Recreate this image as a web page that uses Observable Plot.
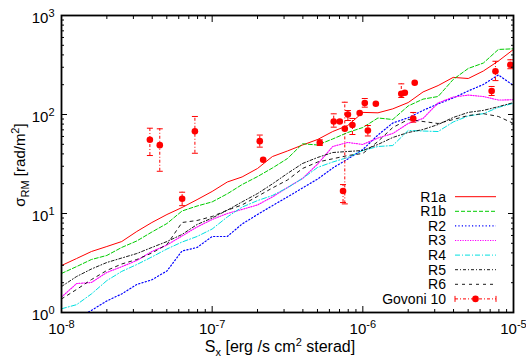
<!DOCTYPE html>
<html><head><meta charset="utf-8">
<script src="https://cdn.jsdelivr.net/npm/d3@7"></script>
<script src="https://cdn.jsdelivr.net/npm/@observablehq/plot@0.6"></script>
<style>
html,body{margin:0;padding:0;background:#fff;}
#chart svg{display:block;font-family:"Liberation Sans",Arial,Helvetica,sans-serif;}
</style></head><body><div id="chart"></div>
<script>
// X-ray surface brightness grid (erg/s cm^2 sterad)
const sx = [1.00e-8,1.26e-8,1.58e-8,2.00e-8,2.51e-8,3.16e-8,3.98e-8,5.01e-8,6.31e-8,7.94e-8,
            1.00e-7,1.26e-7,1.58e-7,2.00e-7,2.51e-7,3.16e-7,3.98e-7,5.01e-7,6.31e-7,7.94e-7,
            1.00e-6,1.26e-6,1.58e-6,2.00e-6,2.51e-6,3.16e-6,3.98e-6,5.01e-6,6.31e-6,7.94e-6,1.00e-5];
// sigma_RM (rad/m^2) for each run
const r1a = [2.98,3.51,4.13,4.64,5.21,6.58,8.11,9.77,11.5,13.8,16.7,20.8,23.4,28.5,37.6,42.8,49.2,55.9,67.3,77.4,105,104,114,132,169,196,237,231,275,347,454];
const r1b = [2.48,2.91,3.43,3.77,4.54,5.28,6.50,7.92,10.6,11.9,13.1,15.8,19.6,23.6,28.8,35.9,50.6,49.2,56.6,65.8,73.9,92.2,89.0,122,143,152,226,292,331,454,461];
const r2  = [0.72,0.87,1.05,1.31,1.54,1.92,2.14,2.63,4.18,4.54,5.86,5.86,7.83,9.77,12.0,14.7,18.1,22.3,28.8,35.5,44.3,62.1,82.0,92.6,110,128,147,173,201,251,196];
const r3  = [1.43,1.96,2.01,2.54,2.90,3.35,4.13,4.81,5.93,7.31,8.70,10.0,11.0,12.2,14.7,18.3,22.6,31.6,47.5,52.2,49.8,57.9,64.3,81.1,91.2,131,150,157,152,140,141];
const r4  = [1.09,1.20,1.54,2.10,2.60,3.05,3.64,4.38,5.15,5.86,6.97,9.22,11.6,13.5,15.2,18.2,22.6,29.2,33.1,36.8,43.3,47.5,48.6,68.9,68.1,67.3,84.0,96.6,102,118,130];
const r5  = [1.83,2.31,2.75,3.20,3.55,3.94,4.54,5.21,6.14,7.74,9.01,10.8,13.1,15.9,19.9,25.4,32.0,36.8,41.3,42.3,43.3,49.8,58.6,65.8,70.5,79.2,93.3,105,110,120,132];
const r6  = [1.37,1.71,2.15,2.66,3.09,3.43,3.99,4.86,8.11,8.50,9.33,10.8,12.2,14.9,18.1,21.8,28.5,33.1,35.7,38.5,40.4,53.4,73.9,89.0,85.0,81.1,89.0,97.7,102,95.5,81.1];
// Govoni et al. 2010 observations
const govS     = [3.86e-8,4.49e-8,6.32e-8,7.68e-8,2.07e-7,2.18e-7,5.18e-7,6.41e-7,7.03e-7,7.59e-7,7.39e-7,7.96e-7,8.53e-7,9.53e-7,1.03e-6,1.08e-6,1.22e-6,1.80e-6,1.90e-6,2.21e-6,2.16e-6,7.16e-6,7.59e-6,9.53e-6];
const govSigma = [55.5,49,14.1,67.8,53.8,34.9,51.8,85,85,71.7,16.9,100,78.3,103.6,130.7,68.9,128.3,161.8,166,209,91.2,172.7,273,318];
const govLo    = [38.5,26.7,12.0,40.6,46.8,null,48.6,74.5,null,12.5,12.9,87,62.8,null,118.6,60.7,null,148.5,null,null,83.6,155.5,220,290];
const govHi    = [72.7,71.7,16.4,95.5,62,null,55.5,101.6,null,133,19.6,109.7,91.2,null,145,77.4,null,204,null,null,104.8,191.8,345,357];
// labels
const seriesNames = ["R1a","R1b","R2","R3","R4","R5","R6"];
const obsName = "Govoni 10";
const xMajor = [1e-8,1e-7,1e-6,1e-5];
const xTickLabels = ["10^-8","10^-7","10^-6","10^-5"];
const yMajor = [1,10,100,1000];
const yTickLabels = ["10^0","10^1","10^2","10^3"];
const xMinor = [2e-8,3e-8,4e-8,5e-8,6e-8,7e-8,8e-8,9e-8,2e-7,3e-7,4e-7,5e-7,6e-7,7e-7,8e-7,9e-7,2e-6,3e-6,4e-6,5e-6,6e-6,7e-6,8e-6,9e-6];
const yMinor = [2,3,4,5,6,7,8,9,20,30,40,50,60,70,80,90,200,300,400,500,600,700,800,900];

const styles = [
  {color:"#ff0000", dash:null, w:1},
  {color:"#00cc00", dash:"4,2", w:1},
  {color:"#0000ff", dash:"1.2,2.2", w:1.2},
  {color:"#ff00ff", dash:"1.2,1.3", w:1.1},
  {color:"#00e0e0", dash:"5,2,1,2", w:1},
  {color:"#000000", dash:"3,2,1,2", w:0.9},
  {color:"#000000", dash:"3,4", w:0.9}
];
const seriesValues = [r1a,r1b,r2,r3,r4,r5,r6];
const red = "#ff0000";

const gov = govS.map((x,i)=>({x, y:govSigma[i], lo:govLo[i], hi:govHi[i]}));
const errs = gov.filter(d => d.lo != null);

const cap = {draw(ctx){ ctx.moveTo(-3,0); ctx.lineTo(3,0); }};

const marks = [];
seriesValues.forEach((vals, k) => {
  const data = sx.map((x,i)=>({x, y:vals[i]}));
  marks.push(Plot.line(data, {x:"x", y:"y", stroke:styles[k].color, strokeWidth:styles[k].w,
    strokeDasharray: styles[k].dash || undefined, clip:true}));
});
marks.push(
  Plot.ruleX(errs, {x:"x", y1:"lo", y2:"hi", stroke:red, strokeWidth:1, strokeDasharray:"3,2,1,2"}),
  Plot.dot(errs, {x:"x", y:"lo", symbol:cap, stroke:red, strokeWidth:1, fill:"none"}),
  Plot.dot(errs, {x:"x", y:"hi", symbol:cap, stroke:red, strokeWidth:1, fill:"none"}),
  Plot.dot(gov, {x:"x", y:"y", r:3.3, fill:red, stroke:"none"})
);
const tickOnly = {label:null, tickFormat:()=>"", stroke:"black"};
marks.push(
  Plot.axisX(xMajor, {...tickOnly, anchor:"bottom", tickSize:-6}),
  Plot.axisX(xMajor, {...tickOnly, anchor:"top", tickSize:-6}),
  Plot.axisX(xMinor, {...tickOnly, anchor:"bottom", tickSize:-3}),
  Plot.axisX(xMinor, {...tickOnly, anchor:"top", tickSize:-3}),
  Plot.axisY(yMajor, {...tickOnly, anchor:"left", tickSize:-6}),
  Plot.axisY(yMajor, {...tickOnly, anchor:"right", tickSize:-6}),
  Plot.axisY(yMinor, {...tickOnly, anchor:"left", tickSize:-3}),
  Plot.axisY(yMinor, {...tickOnly, anchor:"right", tickSize:-3}),
  Plot.axisX(xMajor, {anchor:"bottom", tickSize:0, tickPadding:11, label:null, fontSize:15,
     tickFormat: d => xTickLabels[xMajor.indexOf(d)]}),
  Plot.axisY(yMajor, {anchor:"left", tickSize:0, tickPadding:7, dy:2.5, label:null, fontSize:15,
     tickFormat: d => yTickLabels[yMajor.indexOf(d)]}),
  Plot.frame({stroke:"black", strokeWidth:1.8})
);

const plot = Plot.plot({
  width:526, height:361,
  marginLeft:61, marginRight:13, marginTop:15, marginBottom:49,
  x:{type:"log", domain:[1e-8,1e-5]},
  y:{type:"log", domain:[1,1000]},
  style:{fontFamily:"'Liberation Sans',Arial,sans-serif", fontSize:"15px", color:"black", background:"white"},
  marks
});
document.getElementById("chart").appendChild(plot);

const svg = d3.select(plot);
// remove empty tick-label texts of tick-only axes
svg.selectAll("text").filter(function(){ return this.textContent === ""; }).remove();
// superscripts in tick labels
svg.selectAll("text").each(function(){
  const t = this.textContent;
  if (t.includes("^")) {
    const [b,e] = t.split("^");
    const el = d3.select(this);
    el.text(b);
    el.append("tspan").attr("dy","-6").attr("font-size","11px").text(e);
  }
});
// axis titles
const yl = svg.append("text").attr("transform","translate(25,165) rotate(-90)")
  .attr("text-anchor","middle").attr("font-size","15px").attr("fill","black");
yl.append("tspan").text("σ");
yl.append("tspan").attr("dy",4).attr("font-size","11px").text("RM");
yl.append("tspan").attr("dy",-4).text(" [rad/m");
yl.append("tspan").attr("dy",-6).attr("font-size","11px").text("2");
yl.append("tspan").attr("dy",6).text("]");

const xl = svg.append("text").attr("x",280).attr("y",352)
  .attr("text-anchor","middle").attr("font-size","16px").attr("fill","black");
xl.append("tspan").text("S");
xl.append("tspan").attr("dy",4).attr("font-size","11px").text("x");
xl.append("tspan").attr("dy",-4).text(" [erg /s cm");
xl.append("tspan").attr("dy",-6).attr("font-size","11px").text("2");
xl.append("tspan").attr("dy",6).text(" sterad]");

// legend
const lg = svg.append("g");
const y0 = 196.7, step = 14.6, tx = 446, lx1 = 455, lx2 = 496;
seriesNames.forEach((name,k)=>{
  const yy = y0 + k*step;
  lg.append("text").attr("x",tx).attr("y",yy).attr("dy","0.35em").attr("text-anchor","end")
    .attr("font-size","14px").attr("fill","black").text(name);
  lg.append("line").attr("x1",lx1).attr("x2",lx2).attr("y1",yy).attr("y2",yy)
    .attr("stroke",styles[k].color).attr("stroke-width",styles[k].w)
    .attr("stroke-dasharray",styles[k].dash || null);
});
{
  const yy = y0 + 7*step;
  lg.append("text").attr("x",tx).attr("y",yy).attr("dy","0.35em").attr("text-anchor","end")
    .attr("font-size","14px").attr("fill","black").text(obsName);
  lg.append("line").attr("x1",lx1).attr("x2",lx2).attr("y1",yy).attr("y2",yy)
    .attr("stroke",red).attr("stroke-dasharray","3,2,1,2");
  [lx1,lx2].forEach(x=>lg.append("line").attr("x1",x).attr("x2",x).attr("y1",yy-3).attr("y2",yy+3).attr("stroke",red));
  lg.append("circle").attr("cx",(lx1+lx2)/2).attr("cy",yy).attr("r",3.3).attr("fill",red);
}
</script></body></html>
